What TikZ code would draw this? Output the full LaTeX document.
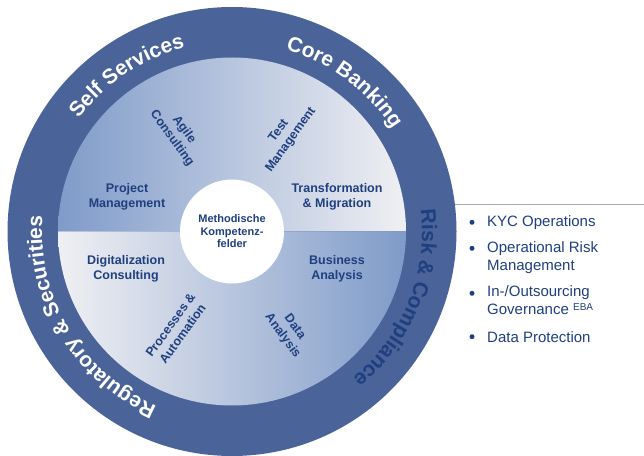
\documentclass[tikz,border=0pt]{standalone}
\usepackage{fontspec}
\setmainfont{Liberation Sans}
\usetikzlibrary{decorations.text}
\definecolor{ringblue}{HTML}{4A6398}
\definecolor{dblue}{HTML}{1F3F7F}
\definecolor{gblue}{HTML}{7F9BC9}
\definecolor{glight}{HTML}{F0F0F3}
\definecolor{rulegrey}{HTML}{A8A8A8}
\newcommand\ringfnt{\fontsize{21}{24}\selectfont\bfseries}
\begin{document}
\begin{tikzpicture}[x=1pt,y=1pt,
  inlabel/.style={font=\bfseries\fontsize{12.5}{15}\selectfont, text=dblue, align=center, inner sep=0pt},
  midlabel/.style={circle, fill=white, minimum size=104pt, inner sep=0pt, font=\bfseries\fontsize{11}{12.5}\selectfont, text=dblue, align=center},
  itemtext/.style={font=\fontsize{15}{18}\selectfont, text=dblue, inner sep=0pt, align=left, anchor=base west},
  bul/.style={circle, fill=dblue, inner sep=0pt, minimum size=5pt},
  rulestyle/.style={draw=rulegrey, line width=1pt}]
\useasboundingbox (0,0) rectangle (644,455);
\coordinate (c) at (232,223.5);
\coordinate (l1) at (440,250);
\coordinate (l2) at (644,250);
\draw[rulestyle] (l1) -- (l2);
% ring
\fill[ringblue] (c) circle[radius=224.5pt];
% inner gradient halves
\shade[left color=gblue, right color=glight] (c) ++(174,0) arc[start angle=0, end angle=180, radius=174pt] -- cycle;
\shade[left color=glight, right color=gblue] (c) ++(-174,0) arc[start angle=180, end angle=360, radius=174pt] -- cycle;
% centre
\node[midlabel] (mid) at (c) {Methodische\\Kompetenz-\\felder};
% ring texts
\path[decorate, decoration={text along path, text align=center, text color=white, text={|\ringfnt|Self Services}}]
  ([shift={(174:190pt)}]c) arc[start angle=174, end angle=74, radius=190pt];
\path[decorate, decoration={text along path, text align=center, text color=white, text={|\ringfnt|Core Banking}}]
  ([shift={(103:190pt)}]c) arc[start angle=103, end angle=3, radius=190pt];
\path[decorate, decoration={text along path, text align=center, text color=dblue, text={|\ringfnt|Risk {\&} Compliance}}]
  ([shift={(28:190pt)}]c) arc[start angle=28, end angle=-72, radius=190pt];
\path[decorate, decoration={text along path, text align=center, text color=white, text={|\ringfnt|Regulatory {\&} Securities}}]
  ([shift={(271:190pt)}]c) arc[start angle=271, end angle=151, radius=190pt];
% inner labels
\node[inlabel] (pm) at (127,258) {Project\\Management};
\node[inlabel] (tm) at (337,258) {Transformation\\\& Migration};
\node[inlabel] (dc) at (126,186) {Digitalization\\Consulting};
\node[inlabel] (ba) at (337,186) {Business\\Analysis};
\node[inlabel, rotate=-54] (ac) at (178,321) {Agile\\Consulting};
\node[inlabel, rotate=54] (tg) at (285,319.5) {Test\\Management};
\node[inlabel, rotate=54] (pa) at (176.5,125.5) {Processes \&\\Automation};
\node[inlabel, rotate=-54] (da) at (288.5,123.5) {Data\\Analysis};
% bullet list
\node[bul] (b1) at (472,232.7) {};
\node[bul] (b2) at (472,206.7) {};
\node[bul] (b3) at (472,161.7) {};
\node[bul] (b4) at (472,118.3) {};
\node[itemtext] (t1) at (487,228) {KYC Operations};
\node[itemtext] (t2) at (487,184) {Operational Risk\\Management};
\node[itemtext] (t3) at (487,140) {In-/Outsourcing\\Governance \raisebox{4pt}{\fontsize{10}{12}\selectfont EBA}};
\node[itemtext] (t4) at (487,113) {Data Protection};
\end{tikzpicture}
\end{document}
